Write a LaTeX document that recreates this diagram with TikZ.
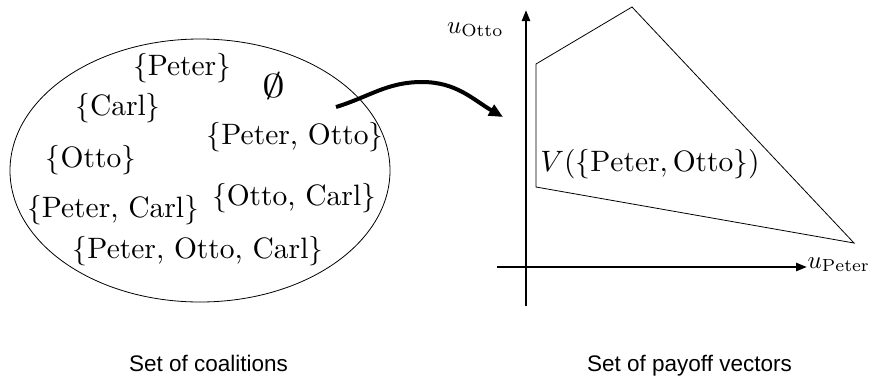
\documentclass[tikz,border=0pt]{standalone}
\usepackage{fontspec}
\newfontfamily\capfont{Liberation Sans}
\usetikzlibrary{arrows.meta,shapes.geometric}
\newcommand{\bt}[1]{\scalebox{2.95}{#1}}
\newcommand{\at}[1]{\scalebox{2.5}{#1}}
\begin{document}
\begin{tikzpicture}[x=1pt,y=-1pt,
  settxt/.style={inner sep=0pt, outer sep=0pt},
  captxt/.style={font=\capfont\fontsize{22.5}{27}\selectfont, inner sep=0pt, anchor=base},
  axisline/.style={line width=2.4pt, -{Triangle[length=11pt,width=8pt]}},
  region/.style={line width=0.8pt},
  maparrow/.style={line width=4pt, -{Triangle[length=14pt,width=12pt]}}
]
\useasboundingbox (0,0) rectangle (872,376);

% set of coalitions
\node (coal) [draw, ellipse, line width=0.8pt, minimum width=380pt, minimum height=263pt, inner sep=0pt] at (200,170.5) {};
\node[settxt] (p)   at (182,68)  {\bt{$\{$Peter$\}$}};
\node[settxt] (e)   at (273.5,86.5) {\bt{\scalebox{1.55}[1.12]{$\emptyset$}}};
\node[settxt] (c)   at (118,108) {\bt{$\{$Carl$\}$}};
\node[settxt] (po)  at (295,137) {\bt{$\{$Peter, Otto$\}$}};
\node[settxt] (o)   at (91,160)  {\bt{$\{$Otto$\}$}};
\node[settxt] (oc)  at (294,198) {\bt{$\{$Otto, Carl$\}$}};
\node[settxt] (pc)  at (113,210) {\bt{$\{$Peter, Carl$\}$}};
\node[settxt] (poc) at (198,251) {\bt{$\{$Peter, Otto, Carl$\}$}};

% mapping arrow
\coordinate (as) at (336,107);
\coordinate (am) at (422,82);
\coordinate (ae) at (503,117);
\draw[maparrow] (as) to[out=17,in=180] (am) to[out=0,in=150] (ae);

% axes
\coordinate (yb) at (526,306);
\coordinate (yt) at (526,10);
\coordinate (xl) at (497,267);
\coordinate (xr) at (807,267);
\draw[axisline] (yb) -- (yt);
\draw[axisline] (xl) -- (xr);
\node[settxt, anchor=base west] (uo) at (447,33) {\at{$u_{\mathrm{Otto}}$}};
\node[settxt, anchor=base east] (up) at (870,268) {\at{$u_{\mathrm{Peter}}$}};

% payoff region
\coordinate (v1) at (536,64);
\coordinate (v2) at (632,7);
\coordinate (v3) at (854,243);
\coordinate (v4) at (536,187);
\draw[region] (v1) -- (v2) -- (v3) -- (v4) -- cycle;
\node[settxt] (vpo) at (650,164.5) {\bt{$V(\{\mathrm{Peter, Otto}\})$}};

% captions
\node[captxt] (cap1) at (208.5,371) {Set of coalitions};
\node[captxt] (cap2) at (689.5,371) {Set of payoff vectors};
\end{tikzpicture}
\end{document}
